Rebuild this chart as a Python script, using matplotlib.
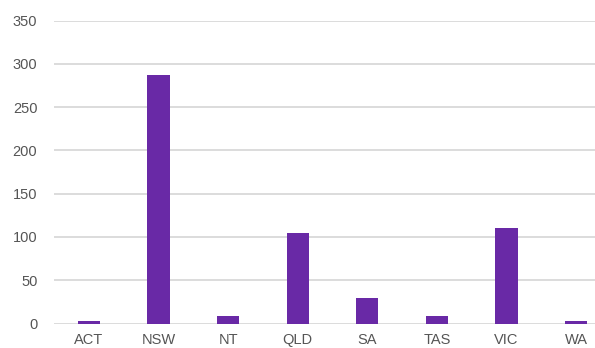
import matplotlib
matplotlib.use("Agg")
import matplotlib.pyplot as plt

states = ["ACT", "NSW", "NT", "QLD", "SA", "TAS", "VIC", "WA"]
counts = [3, 287, 9, 105, 30, 9, 110, 3]
y_ticks = [0, 50, 100, 150, 200, 250, 300, 350]

plt.rcParams["font.family"] = ["Liberation Sans", "DejaVu Sans"]

fig = plt.figure(figsize=(5.95, 3.48), dpi=100)
W, H = 595, 348
left, right = 54, 611
bottom, top = 323.5, 20.5
ax = fig.add_axes([left / W, 1 - bottom / H, (right - left) / W, (bottom - top) / H])

x = range(len(states))
ax.bar(x, counts, width=0.32, color="#6929A6", zorder=3)

ax.set_xlim(-0.5, len(states) - 0.5)
ax.set_ylim(0, 350)
ax.set_yticks(y_ticks)
ax.set_xticks(list(x))
ax.set_xticklabels(states)

ax.grid(axis="y", color="#d9d9d9", linewidth=1.3, zorder=0)
for s in ax.spines.values():
    s.set_visible(False)
ax.tick_params(axis="both", length=0, labelsize=10.5, labelcolor="#555555")
ax.tick_params(axis="y", pad=12)
ax.tick_params(axis="x", pad=7)

fig.savefig("out.png", dpi=100)
